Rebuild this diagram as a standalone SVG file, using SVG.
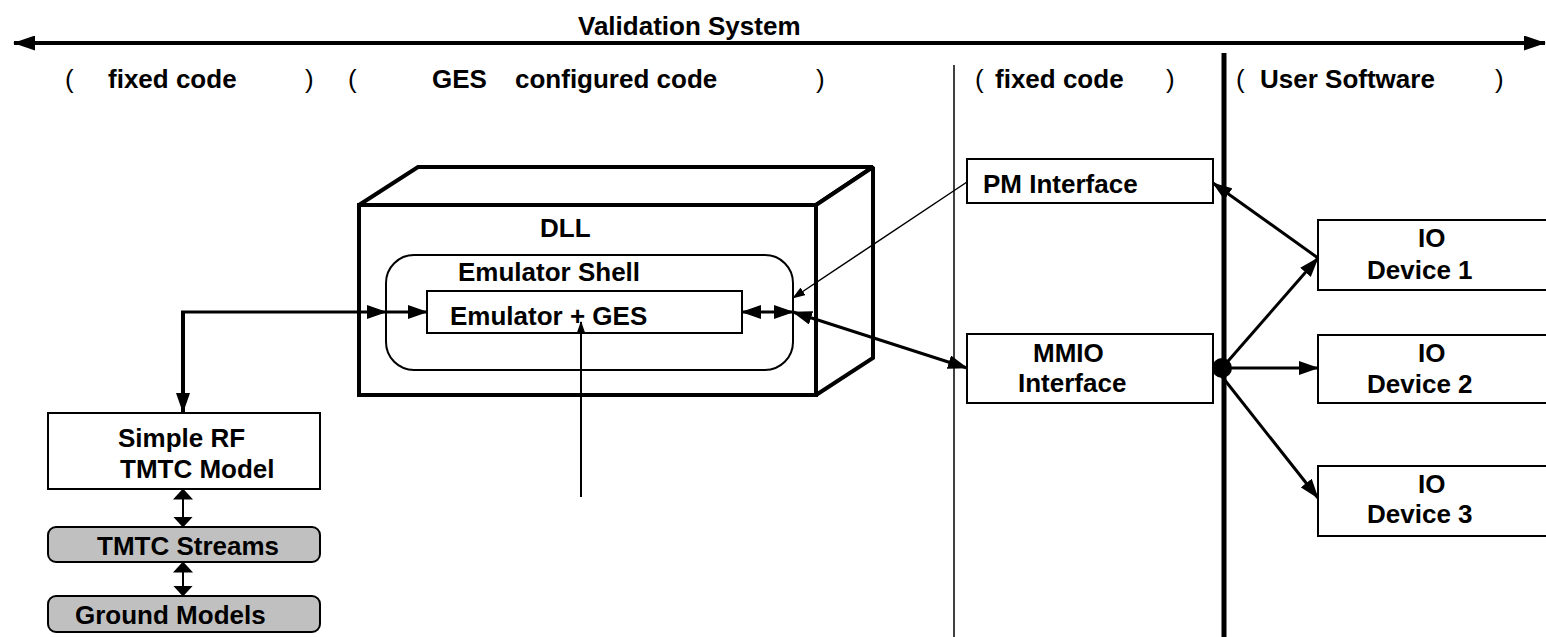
<svg xmlns="http://www.w3.org/2000/svg" width="1546" height="637" viewBox="0 0 1546 637">
<style>
text{font-family:"Liberation Sans",Arial,sans-serif;font-size:26px;font-weight:bold;fill:#000}
.par{font-weight:normal}
.box{fill:#fff;stroke:#000;stroke-width:2}
.grey{fill:#c0c0c0;stroke:#000;stroke-width:2}
.cube{fill:#fff;stroke:#000;stroke-width:4;stroke-linejoin:miter;stroke-miterlimit:2}
.ln{fill:none;stroke:#000}
</style>
<defs>
<marker id="ah" markerUnits="userSpaceOnUse" viewBox="0 0 20 14" markerWidth="20" markerHeight="14" refX="19" refY="7" orient="auto-start-reverse"><path d="M0,0 L20,7 L0,14 z" fill="#000"/></marker>
<marker id="ahs" markerUnits="userSpaceOnUse" viewBox="0 0 13 9" markerWidth="13" markerHeight="9" refX="12" refY="4.5" orient="auto-start-reverse"><path d="M0,0 L13,4.5 L0,9 z" fill="#000"/></marker>
<marker id="ahd" markerUnits="userSpaceOnUse" viewBox="0 0 11 20" markerWidth="11" markerHeight="20" refX="10.5" refY="10" orient="auto-start-reverse"><path d="M0,0 L11,10 L0,20 z" fill="#000"/></marker>
<marker id="aht" markerUnits="userSpaceOnUse" viewBox="0 0 22 15" markerWidth="22" markerHeight="15" refX="21" refY="7.5" orient="auto-start-reverse"><path d="M0,0 L22,7.5 L0,15 z" fill="#000"/></marker>
</defs>

<g id="header">
<text x="578" y="35">Validation System</text>
<text class="par" x="65" y="88">(</text>
<text x="108" y="88">fixed code</text>
<text class="par" x="305" y="88">)</text>
<text class="par" x="348" y="88">(</text>
<text x="432" y="88">GES</text>
<text x="515" y="88">configured code</text>
<text class="par" x="816" y="88">)</text>
<text class="par" x="975" y="88">(</text>
<text x="995" y="88">fixed code</text>
<text class="par" x="1166" y="88">)</text>
<text class="par" x="1236" y="88">(</text>
<text x="1260" y="88">User Software</text>
<text class="par" x="1495" y="88">)</text>
<line class="ln" x1="954" y1="65" x2="954" y2="637" stroke-width="1.5"/>
<line class="ln" x1="1224" y1="53" x2="1224" y2="637" stroke-width="5"/>
</g>

<g id="dll">
<polygon class="cube" points="359,205 418,167 873,167 816,205"/>
<polygon class="cube" points="816,205 873,167 873,358 816,395"/>
<rect class="cube" x="359" y="205" width="457" height="190"/>
<text x="540" y="237">DLL</text>
</g>

<g id="emulator-shell">
<rect class="box" x="386" y="255" width="407" height="115" rx="28"/>
<text x="458" y="281">Emulator Shell</text>
</g>

<g id="emulator-ges">
<rect class="box" x="427" y="291" width="315" height="42"/>
<text x="450" y="325">Emulator + GES</text>
</g>

<g id="pm-interface">
<rect class="box" x="967" y="159" width="246" height="44"/>
<text x="983" y="193">PM Interface</text>
</g>

<g id="mmio-interface">
<rect class="box" x="967" y="334" width="246" height="69"/>
<text x="1033" y="362">MMIO</text>
<text x="1018" y="392">Interface</text>
</g>

<g id="simple-rf">
<rect class="box" x="48" y="413" width="272" height="76"/>
<text x="118" y="447">Simple RF</text>
<text x="120" y="478">TMTC Model</text>
</g>

<g id="tmtc-streams">
<rect class="grey" x="48" y="527" width="272" height="35" rx="8"/>
<text x="97" y="555">TMTC Streams</text>
</g>

<g id="ground-models">
<rect class="grey" x="48" y="596" width="272" height="36" rx="8"/>
<text x="75" y="624">Ground Models</text>
</g>

<g id="io-device-1">
<rect class="box" x="1318" y="220" width="240" height="70"/>
<text x="1418" y="247">IO</text>
<text x="1367" y="279">Device 1</text>
</g>

<g id="io-device-2">
<rect class="box" x="1318" y="335" width="240" height="68"/>
<text x="1418" y="362">IO</text>
<text x="1367" y="393">Device 2</text>
</g>

<g id="io-device-3">
<rect class="box" x="1318" y="466" width="240" height="70"/>
<text x="1418" y="493">IO</text>
<text x="1367" y="523">Device 3</text>
</g>

<g id="connectors">
<line class="ln" x1="14" y1="43" x2="1545" y2="43" stroke-width="4" marker-start="url(#aht)" marker-end="url(#aht)"/>
<path class="ln" d="M183,312 V412" stroke-width="4" marker-end="url(#ah)"/>
<path class="ln" d="M181,312 H386" stroke-width="3" marker-end="url(#ah)"/>
<path class="ln" d="M386,312 H427" stroke-width="3" marker-end="url(#ah)"/>
<path class="ln" d="M742,312 H793" stroke-width="3" marker-start="url(#ah)" marker-end="url(#ah)"/>
<path class="ln" d="M793,312 L967,368" stroke-width="3" marker-start="url(#ah)" marker-end="url(#ah)"/>
<path class="ln" d="M967,182 L793,298" stroke-width="1.5" marker-end="url(#ahs)"/>
<path class="ln" d="M581,497 V322" stroke-width="2" marker-end="url(#ahs)"/>
<path class="ln" d="M183,489 V527" stroke-width="2" marker-start="url(#ahd)" marker-end="url(#ahd)"/>
<path class="ln" d="M183,562 V596" stroke-width="2" marker-start="url(#ahd)" marker-end="url(#ahd)"/>
<path class="ln" d="M1318,258 L1213,183" stroke-width="3" marker-end="url(#ah)"/>
<path class="ln" d="M1222,368 L1318,258" stroke-width="3" marker-end="url(#ah)"/>
<path class="ln" d="M1222,368 H1318" stroke-width="3" marker-end="url(#ah)"/>
<path class="ln" d="M1220,374 L1318,498" stroke-width="3" marker-end="url(#ah)"/>
<circle cx="1222" cy="368" r="10" fill="#000"/>
</g>
</svg>
